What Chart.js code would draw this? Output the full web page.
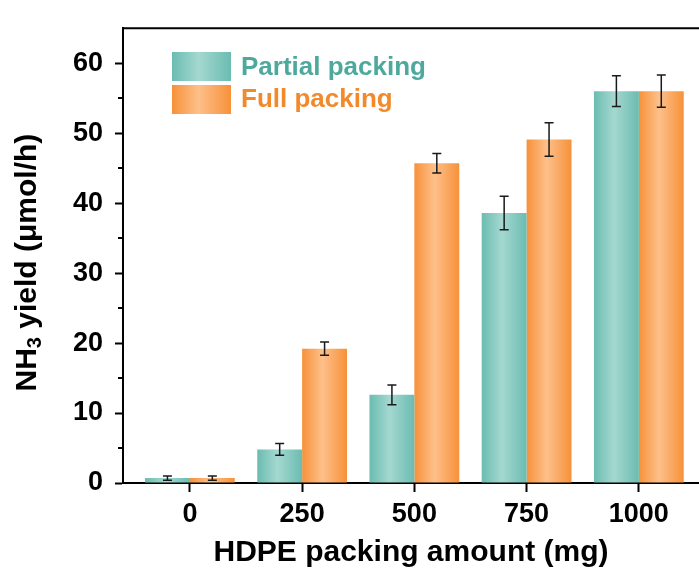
<!DOCTYPE html>
<html lang="en">
<head>
<meta charset="UTF-8">
<title>NH3 yield vs HDPE packing amount</title>
<script src="https://cdn.jsdelivr.net/npm/chart.js"></script>
<style>
  html, body { margin: 0; padding: 0; background: #fff; }
</style>
</head>
<body>
<canvas id="barChart" width="699" height="573"></canvas>
<script>
// values
const amounts = [0, 250, 500, 750, 1000];            // HDPE packing amount (mg)
const partialYield = [0.7, 4.8, 12.6, 38.6, 56.0];  // NH3 yield (umol/h)
const partialErr = [0.3, 0.85, 1.4, 2.4, 2.2];
const fullYield = [0.7, 19.2, 45.7, 49.1, 56.0];
const fullErr = [0.3, 0.95, 1.4, 2.4, 2.3];
const seriesNames = ['Partial packing', 'Full packing'];
const yTicks = [0, 10, 20, 30, 40, 50, 60];
const yMinorTicks = [5, 15, 25, 35, 45, 55];

const FONT = "'Liberation Sans', Arial, sans-serif";
const teal = { edge: '#6bbcb1', mid: '#a4d8d0', text: '#4ea99d' };
const orange = { edge: '#f7913a', mid: '#fdc08a', text: '#f28a2b' };

// horizontal shading across each bar
function barFill(ctx, c) {
    const el = ctx.element;
    if (!el || el.width === undefined || isNaN(el.x)) return c.edge;
    return shade(ctx.chart.ctx, el.x - el.width / 2, el.width, c);
}
function shade(g, left, w, c) {
    const grad = g.createLinearGradient(left, 0, left + w, 0);
    grad.addColorStop(0, c.edge);
    grad.addColorStop(0.45, c.mid);
    grad.addColorStop(1, c.edge);
    return grad;
}

const extras = {
    id: 'extras',
    afterDatasetsDraw(chart) {
        const { ctx, scales: { y } } = chart;
        // error bars
        ctx.save();
        ctx.strokeStyle = '#1a1a1a';
        ctx.lineWidth = 1.5;
        chart.data.datasets.forEach((ds, di) => {
            chart.getDatasetMeta(di).data.forEach((bar, i) => {
                const v = ds.data[i].y, e = ds.errors[i];
                const yt = y.getPixelForValue(v + e), yb = y.getPixelForValue(v - e);
                ctx.beginPath();
                ctx.moveTo(bar.x, yt); ctx.lineTo(bar.x, yb);
                ctx.moveTo(bar.x - 4.5, yt); ctx.lineTo(bar.x + 4.5, yt);
                ctx.moveTo(bar.x - 4.5, yb); ctx.lineTo(bar.x + 4.5, yb);
                ctx.stroke();
            });
        });
        ctx.restore();
    },
    afterDraw(chart) {
        const { ctx, chartArea: a, scales: { y } } = chart;
        ctx.save();
        // minor ticks + top frame line
        ctx.strokeStyle = '#000';
        ctx.lineWidth = 2;
        ctx.beginPath();
        yMinorTicks.forEach(v => {
            const py = Math.round(y.getPixelForValue(v));
            ctx.moveTo(a.left - 5, py); ctx.lineTo(a.left, py);
        });
        ctx.moveTo(a.left - 1, a.top); ctx.lineTo(a.right, a.top);
        ctx.stroke();

        // legend inside the plot
        const cols = [teal, orange];
        seriesNames.forEach((name, i) => {
            const bx = 172, by = 52 + i * 33;
            ctx.fillStyle = shade(ctx, bx, 59, cols[i]);
            ctx.fillRect(bx, by, 59, 29);
            ctx.fillStyle = cols[i].text;
            ctx.font = 'bold 26px ' + FONT;
            ctx.textBaseline = 'alphabetic';
            ctx.textAlign = 'left';
            ctx.fillText(name, 241, 75 + i * 32);
        });

        // y title with subscript
        ctx.translate(28, (a.top + a.bottom) / 2 + 7);
        ctx.rotate(-Math.PI / 2);
        ctx.fillStyle = '#000';
        ctx.textBaseline = 'middle';
        const big = 'bold 30px ' + FONT, small = 'bold 20px ' + FONT;
        ctx.font = big;
        const w1 = ctx.measureText('NH').width, w3 = ctx.measureText(' yield (μmol/h)').width;
        ctx.font = small;
        const w2 = ctx.measureText('3').width;
        let x0 = -(w1 + w2 + w3) / 2;
        ctx.font = big; ctx.fillText('NH', x0, 0);
        ctx.font = small; ctx.fillText('3', x0 + w1, 7);
        ctx.font = big; ctx.fillText(' yield (μmol/h)', x0 + w1 + w2, 0);
        ctx.restore();
    }
};

const chart = new Chart(document.getElementById('barChart'), {
    type: 'bar',
    data: {
        datasets: [{
            label: seriesNames[0],
            data: amounts.map((a, i) => ({ x: a, y: partialYield[i] })),
            errors: partialErr,
            backgroundColor: ctx => barFill(ctx, teal),
            borderWidth: 0
        }, {
            label: seriesNames[1],
            data: amounts.map((a, i) => ({ x: a, y: fullYield[i] })),
            errors: fullErr,
            backgroundColor: ctx => barFill(ctx, orange),
            borderWidth: 0
        }]
    },
    options: {
        responsive: false,
        animation: false,
        events: [],
        layout: { padding: { top: 12, right: 0, bottom: 0, left: 0 } },
        datasets: { bar: { categoryPercentage: 0.8, barPercentage: 1.0 } },
        plugins: { legend: { display: false }, tooltip: { enabled: false } },
        scales: {
            x: {
                type: 'linear',
                min: -149,
                max: 1134,
                offset: false,
                afterBuildTicks: s => { s.ticks = amounts.map(v => ({ value: v })); },
                afterFit: s => { s.height = 90; },
                grid: { offset: false, drawOnChartArea: false, tickLength: 9, tickWidth: 2, tickColor: '#000' },
                border: { color: '#000', width: 2 },
                ticks: {
                    callback: v => String(v),
                    font: { family: FONT, size: 27, weight: 'bold' },
                    color: '#000', padding: 6, maxRotation: 0, autoSkip: false
                },
                title: {
                    display: true,
                    text: 'HDPE packing amount (mg)',
                    font: { family: FONT, size: 30, weight: 'bold' },
                    color: '#000',
                    padding: { top: 0, bottom: 2 }
                }
            },
            y: {
                min: 0,
                max: 65,
                afterBuildTicks: s => { s.ticks = yTicks.map(v => ({ value: v })); },
                afterFit: s => { s.width = 123; },
                grid: { drawOnChartArea: false, tickLength: 8, tickWidth: 2, tickColor: '#000' },
                border: { color: '#000', width: 2 },
                ticks: {
                    font: { family: FONT, size: 27, weight: 'bold' },
                    color: '#000', padding: 12
                }
            }
        }
    },
    plugins: [extras]
});
// second pass so the bar gradients know their final geometry
chart.update();
</script>
</body>
</html>
